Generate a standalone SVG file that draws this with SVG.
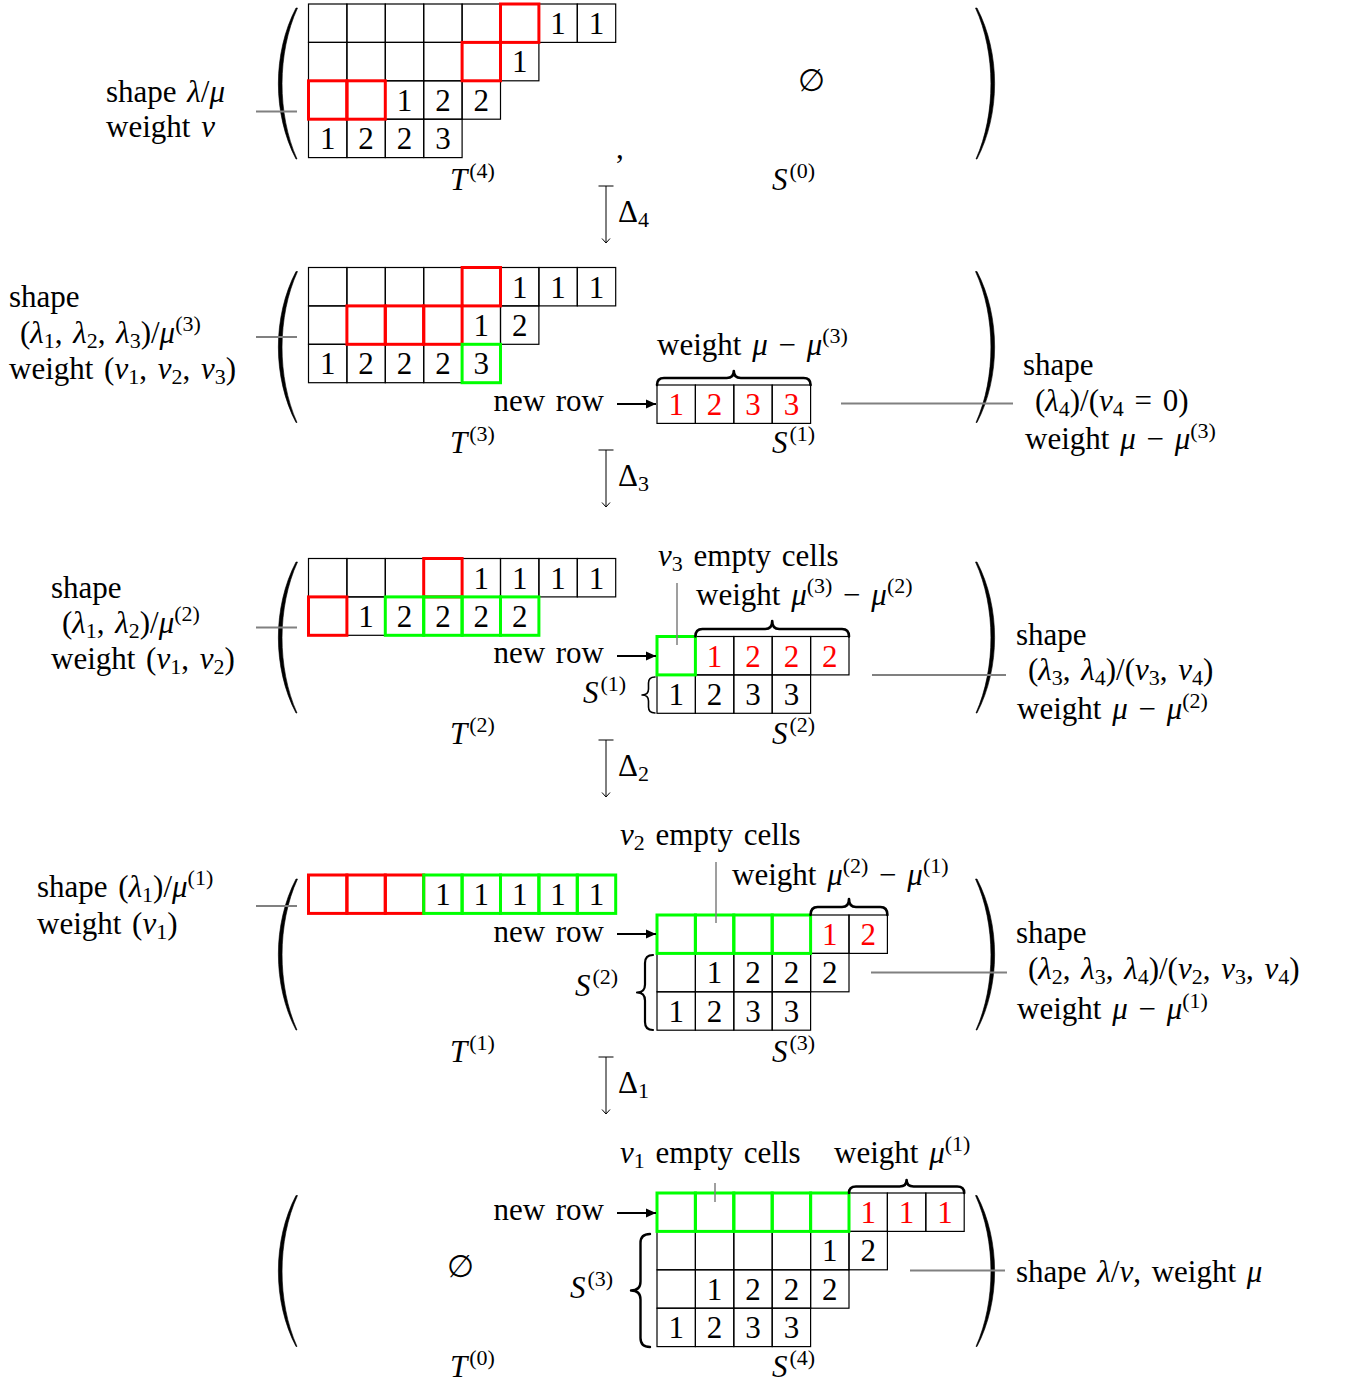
<svg xmlns="http://www.w3.org/2000/svg" xmlns:xlink="http://www.w3.org/1999/xlink" width="1351" height="1382" viewBox="0 0 1351 1382">
<style>
text{font-family:"Liberation Serif","DejaVu Serif",serif;font-size:31px;fill:#000;word-spacing:3px}
.i{font-style:italic}
.s{font-size:22px}
.d{text-anchor:middle}
.e{text-anchor:end}
.rd{fill:#ff0000}
.c{fill:none;stroke:#000;stroke-width:1.2}
.r{fill:none;stroke:#ff0000;stroke-width:3}
.g{fill:none;stroke:#00ff00;stroke-width:3}
.gl{fill:none;stroke:#808080;stroke-width:2}
.br{fill:none;stroke:#000;stroke-width:2.6;stroke-linejoin:round;stroke-linecap:round}
.ar{fill:none;stroke:#000;stroke-width:1.8}
.da{fill:none;stroke:#000;stroke-width:1}
.pa{fill:#000;stroke:#000;stroke-width:0.6}
</style>
<defs>
<marker id="ah" viewBox="0 0 10 10" refX="10" refY="5" markerWidth="10" markerHeight="10" markerUnits="userSpaceOnUse" orient="auto"><path d="M0,0.5 L10,5 L0,9.5 z" fill="#000"/></marker>
<marker id="tb" viewBox="-2 -8 4 16" refX="0" refY="0" markerWidth="4" markerHeight="16" markerUnits="userSpaceOnUse" orient="auto"><path d="M0,-7.5 V7.5" stroke="#000" stroke-width="1" fill="none"/></marker>
<marker id="oa" viewBox="-6 -5 7 10" refX="0" refY="0" markerWidth="7" markerHeight="10" markerUnits="userSpaceOnUse" orient="auto"><path d="M-4.5,-4 L0,0 L-4.5,4" stroke="#000" stroke-width="1" fill="none"/></marker>
<path id="lp" class="pa" d="M18 0 C-5.5 45,-5.5 106,18 151 L19 151 C-1 106,-1 45,19.5 0 Z"/>
<path id="rp" class="pa" d="M0 0 C23.5 45,23.5 106,0 151 L-1 151 C19 106,19 45,-1.5 0 Z"/>
</defs>
<rect width="1351" height="1382" fill="#fff"/>

<!-- Panel 1 -->
<g id="panel1">
<use xlink:href="#lp" x="278" y="8"/>
<use xlink:href="#rp" x="977" y="8"/>
<g id="T4">
<rect class="c" x="308.5" y="4" width="38.4" height="38.4"/><rect class="c" x="346.9" y="4" width="38.4" height="38.4"/><rect class="c" x="385.3" y="4" width="38.4" height="38.4"/><rect class="c" x="423.7" y="4" width="38.4" height="38.4"/><rect class="c" x="462.1" y="4" width="38.4" height="38.4"/><rect class="c" x="500.5" y="4" width="38.4" height="38.4"/><rect class="c" x="538.9" y="4" width="38.4" height="38.4"/><rect class="c" x="577.3" y="4" width="38.4" height="38.4"/>
<rect class="c" x="308.5" y="42.4" width="38.4" height="38.4"/><rect class="c" x="346.9" y="42.4" width="38.4" height="38.4"/><rect class="c" x="385.3" y="42.4" width="38.4" height="38.4"/><rect class="c" x="423.7" y="42.4" width="38.4" height="38.4"/><rect class="c" x="462.1" y="42.4" width="38.4" height="38.4"/><rect class="c" x="500.5" y="42.4" width="38.4" height="38.4"/>
<rect class="c" x="308.5" y="80.8" width="38.4" height="38.4"/><rect class="c" x="346.9" y="80.8" width="38.4" height="38.4"/><rect class="c" x="385.3" y="80.8" width="38.4" height="38.4"/><rect class="c" x="423.7" y="80.8" width="38.4" height="38.4"/><rect class="c" x="462.1" y="80.8" width="38.4" height="38.4"/>
<rect class="c" x="308.5" y="119.2" width="38.4" height="38.4"/><rect class="c" x="346.9" y="119.2" width="38.4" height="38.4"/><rect class="c" x="385.3" y="119.2" width="38.4" height="38.4"/><rect class="c" x="423.7" y="119.2" width="38.4" height="38.4"/>
<rect class="r" x="500.5" y="4" width="38.4" height="38.4"/><rect class="r" x="462.1" y="42.4" width="38.4" height="38.4"/><rect class="r" x="308.5" y="80.8" width="38.4" height="38.4"/><rect class="r" x="346.9" y="80.8" width="38.4" height="38.4"/>
<text class="d" x="558.1" y="34">1</text><text class="d" x="596.5" y="34">1</text>
<text class="d" x="519.7" y="72.4">1</text>
<text class="d" x="404.5" y="110.8">1</text><text class="d" x="442.9" y="110.8">2</text><text class="d" x="481.3" y="110.8">2</text>
<text class="d" x="327.7" y="149.2">1</text><text class="d" x="366.1" y="149.2">2</text><text class="d" x="404.5" y="149.2">2</text><text class="d" x="442.9" y="149.2">3</text>
</g>
<text x="106" y="102">shape <tspan class="i">λ</tspan>/<tspan class="i">μ</tspan></text>
<text x="106" y="137">weight <tspan class="i">ν</tspan></text>
<text x="616" y="158">,</text>
<text class="d" x="811" y="91">∅</text>
<text x="450" y="190"><tspan class="i">T</tspan><tspan class="s" dx="2" dy="-12">(4)</tspan></text>
<text x="772" y="190"><tspan class="i">S</tspan><tspan class="s" dx="2" dy="-12">(0)</tspan></text>
</g>

<!-- Panel 2 -->
<g id="panel2">
<use xlink:href="#lp" x="278" y="271.5"/>
<use xlink:href="#rp" x="977" y="271.5"/>
<g id="T3">
<rect class="c" x="308.5" y="267.5" width="38.4" height="38.4"/><rect class="c" x="346.9" y="267.5" width="38.4" height="38.4"/><rect class="c" x="385.3" y="267.5" width="38.4" height="38.4"/><rect class="c" x="423.7" y="267.5" width="38.4" height="38.4"/><rect class="c" x="462.1" y="267.5" width="38.4" height="38.4"/><rect class="c" x="500.5" y="267.5" width="38.4" height="38.4"/><rect class="c" x="538.9" y="267.5" width="38.4" height="38.4"/><rect class="c" x="577.3" y="267.5" width="38.4" height="38.4"/>
<rect class="c" x="308.5" y="305.9" width="38.4" height="38.4"/><rect class="c" x="346.9" y="305.9" width="38.4" height="38.4"/><rect class="c" x="385.3" y="305.9" width="38.4" height="38.4"/><rect class="c" x="423.7" y="305.9" width="38.4" height="38.4"/><rect class="c" x="462.1" y="305.9" width="38.4" height="38.4"/><rect class="c" x="500.5" y="305.9" width="38.4" height="38.4"/>
<rect class="c" x="308.5" y="344.3" width="38.4" height="38.4"/><rect class="c" x="346.9" y="344.3" width="38.4" height="38.4"/><rect class="c" x="385.3" y="344.3" width="38.4" height="38.4"/><rect class="c" x="423.7" y="344.3" width="38.4" height="38.4"/><rect class="c" x="462.1" y="344.3" width="38.4" height="38.4"/>
<rect class="r" x="462.1" y="267.5" width="38.4" height="38.4"/><rect class="r" x="346.9" y="305.9" width="38.4" height="38.4"/><rect class="r" x="385.3" y="305.9" width="38.4" height="38.4"/><rect class="r" x="423.7" y="305.9" width="38.4" height="38.4"/>
<rect class="g" x="462.1" y="344.3" width="38.4" height="38.4"/>
<text class="d" x="519.7" y="297.5">1</text><text class="d" x="558.1" y="297.5">1</text><text class="d" x="596.5" y="297.5">1</text>
<text class="d" x="481.3" y="335.9">1</text><text class="d" x="519.7" y="335.9">2</text>
<text class="d" x="327.7" y="374.3">1</text><text class="d" x="366.1" y="374.3">2</text><text class="d" x="404.5" y="374.3">2</text><text class="d" x="442.9" y="374.3">2</text><text class="d" x="481.3" y="374.3">3</text>
</g>
<g id="S1">
<rect class="c" x="657" y="385" width="38.4" height="38.4"/><rect class="c" x="695.4" y="385" width="38.4" height="38.4"/><rect class="c" x="733.8" y="385" width="38.4" height="38.4"/><rect class="c" x="772.2" y="385" width="38.4" height="38.4"/>
<text class="d rd" x="676.2" y="415">1</text><text class="d rd" x="714.6" y="415">2</text><text class="d rd" x="753" y="415">3</text><text class="d rd" x="791.4" y="415">3</text>
<path class="br" d="M657 385 Q657 378 664 378 L726.8 378 Q733.8 378 733.8 371 Q733.8 378 740.8 378 L803.6 378 Q810.6 378 810.6 385"/>
</g>
<text x="9" y="307">shape</text>
<text x="20" y="343">(<tspan class="i">λ</tspan><tspan class="s" dy="5">1</tspan><tspan dy="-5">, </tspan><tspan class="i">λ</tspan><tspan class="s" dy="5">2</tspan><tspan dy="-5">, </tspan><tspan class="i">λ</tspan><tspan class="s" dy="5">3</tspan><tspan dy="-5">)/</tspan><tspan class="i">μ</tspan><tspan class="s" dy="-12">(3)</tspan></text>
<text x="9" y="379">weight (<tspan class="i">ν</tspan><tspan class="s" dy="5">1</tspan><tspan dy="-5">, </tspan><tspan class="i">ν</tspan><tspan class="s" dy="5">2</tspan><tspan dy="-5">, </tspan><tspan class="i">ν</tspan><tspan class="s" dy="5">3</tspan><tspan dy="-5">)</tspan></text>
<text x="657" y="355">weight <tspan class="i">μ</tspan> − <tspan class="i">μ</tspan><tspan class="s" dy="-12">(3)</tspan></text>
<text class="e" x="604" y="411">new row</text>
<text x="1023" y="375">shape</text>
<text x="1035" y="411">(<tspan class="i">λ</tspan><tspan class="s" dy="5">4</tspan><tspan dy="-5">)/(</tspan><tspan class="i">ν</tspan><tspan class="s" dy="5">4</tspan><tspan dy="-5"> = 0)</tspan></text>
<text x="1025" y="449">weight <tspan class="i">μ</tspan> − <tspan class="i">μ</tspan><tspan class="s" dy="-11">(3)</tspan></text>
<text x="450" y="453"><tspan class="i">T</tspan><tspan class="s" dx="2" dy="-12">(3)</tspan></text>
<text x="772" y="453"><tspan class="i">S</tspan><tspan class="s" dx="2" dy="-12">(1)</tspan></text>
</g>

<!-- Panel 3 -->
<g id="panel3">
<use xlink:href="#lp" x="278" y="562"/>
<use xlink:href="#rp" x="977" y="562"/>
<g id="T2">
<rect class="c" x="308.5" y="558.5" width="38.4" height="38.4"/><rect class="c" x="346.9" y="558.5" width="38.4" height="38.4"/><rect class="c" x="385.3" y="558.5" width="38.4" height="38.4"/><rect class="c" x="423.7" y="558.5" width="38.4" height="38.4"/><rect class="c" x="462.1" y="558.5" width="38.4" height="38.4"/><rect class="c" x="500.5" y="558.5" width="38.4" height="38.4"/><rect class="c" x="538.9" y="558.5" width="38.4" height="38.4"/><rect class="c" x="577.3" y="558.5" width="38.4" height="38.4"/>
<rect class="c" x="308.5" y="596.9" width="38.4" height="38.4"/><rect class="c" x="346.9" y="596.9" width="38.4" height="38.4"/><rect class="c" x="385.3" y="596.9" width="38.4" height="38.4"/><rect class="c" x="423.7" y="596.9" width="38.4" height="38.4"/><rect class="c" x="462.1" y="596.9" width="38.4" height="38.4"/><rect class="c" x="500.5" y="596.9" width="38.4" height="38.4"/>
<rect class="r" x="423.7" y="558.5" width="38.4" height="38.4"/><rect class="r" x="308.5" y="596.9" width="38.4" height="38.4"/>
<rect class="g" x="385.3" y="596.9" width="38.4" height="38.4"/><rect class="g" x="423.7" y="596.9" width="38.4" height="38.4"/><rect class="g" x="462.1" y="596.9" width="38.4" height="38.4"/><rect class="g" x="500.5" y="596.9" width="38.4" height="38.4"/>
<text class="d" x="481.3" y="588.5">1</text><text class="d" x="519.7" y="588.5">1</text><text class="d" x="558.1" y="588.5">1</text><text class="d" x="596.5" y="588.5">1</text>
<text class="d" x="366.1" y="626.9">1</text><text class="d" x="404.5" y="626.9">2</text><text class="d" x="442.9" y="626.9">2</text><text class="d" x="481.3" y="626.9">2</text><text class="d" x="519.7" y="626.9">2</text>
</g>
<g id="S2">
<rect class="c" x="695.4" y="636.5" width="38.4" height="38.4"/><rect class="c" x="733.8" y="636.5" width="38.4" height="38.4"/><rect class="c" x="772.2" y="636.5" width="38.4" height="38.4"/><rect class="c" x="810.6" y="636.5" width="38.4" height="38.4"/>
<rect class="c" x="657" y="674.9" width="38.4" height="38.4"/><rect class="c" x="695.4" y="674.9" width="38.4" height="38.4"/><rect class="c" x="733.8" y="674.9" width="38.4" height="38.4"/><rect class="c" x="772.2" y="674.9" width="38.4" height="38.4"/>
<rect class="g" x="657" y="636.5" width="38.4" height="38.4"/>
<text class="d rd" x="714.6" y="666.5">1</text><text class="d rd" x="753" y="666.5">2</text><text class="d rd" x="791.4" y="666.5">2</text><text class="d rd" x="829.8" y="666.5">2</text>
<text class="d" x="676.2" y="704.9">1</text><text class="d" x="714.6" y="704.9">2</text><text class="d" x="753" y="704.9">3</text><text class="d" x="791.4" y="704.9">3</text>
<path class="br" d="M695.4 636.5 Q695.4 629 702.4 629 L765.2 629 Q772.2 629 772.2 621 Q772.2 629 779.2 629 L842 629 Q849 629 849 636.5"/>
<path class="br" style="stroke-width:1.6" d="M655 677 Q648.5 677 648.5 683 L648.5 689 Q648.5 695 642 695 Q648.5 695 648.5 701 L648.5 707 Q648.5 713 655 713"/>
</g>
<text x="51" y="598">shape</text>
<text x="62" y="633">(<tspan class="i">λ</tspan><tspan class="s" dy="5">1</tspan><tspan dy="-5">, </tspan><tspan class="i">λ</tspan><tspan class="s" dy="5">2</tspan><tspan dy="-5">)/</tspan><tspan class="i">μ</tspan><tspan class="s" dy="-12">(2)</tspan></text>
<text x="51" y="669">weight (<tspan class="i">ν</tspan><tspan class="s" dy="5">1</tspan><tspan dy="-5">, </tspan><tspan class="i">ν</tspan><tspan class="s" dy="5">2</tspan><tspan dy="-5">)</tspan></text>
<text x="658" y="566"><tspan class="i">ν</tspan><tspan class="s" dy="5">3</tspan><tspan dy="-5"> empty cells</tspan></text>
<text x="696" y="605">weight <tspan class="i">μ</tspan><tspan class="s" dy="-12">(3)</tspan><tspan dy="12"> − </tspan><tspan class="i">μ</tspan><tspan class="s" dy="-12">(2)</tspan></text>
<text class="e" x="604" y="663">new row</text>
<text x="583" y="703"><tspan class="i">S</tspan><tspan class="s" dx="2" dy="-12">(1)</tspan></text>
<text x="1016" y="645">shape</text>
<text x="1028" y="680">(<tspan class="i">λ</tspan><tspan class="s" dy="5">3</tspan><tspan dy="-5">, </tspan><tspan class="i">λ</tspan><tspan class="s" dy="5">4</tspan><tspan dy="-5">)/(</tspan><tspan class="i">ν</tspan><tspan class="s" dy="5">3</tspan><tspan dy="-5">, </tspan><tspan class="i">ν</tspan><tspan class="s" dy="5">4</tspan><tspan dy="-5">)</tspan></text>
<text x="1017" y="719">weight <tspan class="i">μ</tspan> − <tspan class="i">μ</tspan><tspan class="s" dy="-11">(2)</tspan></text>
<text x="450" y="744"><tspan class="i">T</tspan><tspan class="s" dx="2" dy="-12">(2)</tspan></text>
<text x="772" y="744"><tspan class="i">S</tspan><tspan class="s" dx="2" dy="-12">(2)</tspan></text>
</g>

<!-- Panel 4 -->
<g id="panel4">
<use xlink:href="#lp" x="278" y="879"/>
<use xlink:href="#rp" x="977" y="879"/>
<g id="T1">
<rect class="r" x="308.5" y="875" width="38.4" height="38.4"/><rect class="r" x="346.9" y="875" width="38.4" height="38.4"/><rect class="r" x="385.3" y="875" width="38.4" height="38.4"/>
<rect class="g" x="423.7" y="875" width="38.4" height="38.4"/><rect class="g" x="462.1" y="875" width="38.4" height="38.4"/><rect class="g" x="500.5" y="875" width="38.4" height="38.4"/><rect class="g" x="538.9" y="875" width="38.4" height="38.4"/><rect class="g" x="577.3" y="875" width="38.4" height="38.4"/>
<text class="d" x="442.9" y="905">1</text><text class="d" x="481.3" y="905">1</text><text class="d" x="519.7" y="905">1</text><text class="d" x="558.1" y="905">1</text><text class="d" x="596.5" y="905">1</text>
</g>
<g id="S3">
<rect class="c" x="810.6" y="915" width="38.4" height="38.4"/><rect class="c" x="849" y="915" width="38.4" height="38.4"/>
<rect class="c" x="657" y="953.4" width="38.4" height="38.4"/><rect class="c" x="695.4" y="953.4" width="38.4" height="38.4"/><rect class="c" x="733.8" y="953.4" width="38.4" height="38.4"/><rect class="c" x="772.2" y="953.4" width="38.4" height="38.4"/><rect class="c" x="810.6" y="953.4" width="38.4" height="38.4"/>
<rect class="c" x="657" y="991.8" width="38.4" height="38.4"/><rect class="c" x="695.4" y="991.8" width="38.4" height="38.4"/><rect class="c" x="733.8" y="991.8" width="38.4" height="38.4"/><rect class="c" x="772.2" y="991.8" width="38.4" height="38.4"/>
<rect class="g" x="657" y="915" width="38.4" height="38.4"/><rect class="g" x="695.4" y="915" width="38.4" height="38.4"/><rect class="g" x="733.8" y="915" width="38.4" height="38.4"/><rect class="g" x="772.2" y="915" width="38.4" height="38.4"/>
<text class="d rd" x="829.8" y="945">1</text><text class="d rd" x="868.2" y="945">2</text>
<text class="d" x="714.6" y="983.4">1</text><text class="d" x="753" y="983.4">2</text><text class="d" x="791.4" y="983.4">2</text><text class="d" x="829.8" y="983.4">2</text>
<text class="d" x="676.2" y="1021.8">1</text><text class="d" x="714.6" y="1021.8">2</text><text class="d" x="753" y="1021.8">3</text><text class="d" x="791.4" y="1021.8">3</text>
<path class="br" d="M810.6 915 Q810.6 907 817.6 907 L842 907 Q849 907 849 899 Q849 907 856 907 L880.4 907 Q887.4 907 887.4 915"/>
<path class="br" style="stroke-width:2.2" d="M653 955 Q645 955 645 963 L645 984.5 Q645 992.5 637 992.5 Q645 992.5 645 1000.5 L645 1022 Q645 1030 653 1030"/>
</g>
<text x="37" y="897">shape (<tspan class="i">λ</tspan><tspan class="s" dy="5">1</tspan><tspan dy="-5">)/</tspan><tspan class="i">μ</tspan><tspan class="s" dy="-12">(1)</tspan></text>
<text x="37" y="934">weight (<tspan class="i">ν</tspan><tspan class="s" dy="5">1</tspan><tspan dy="-5">)</tspan></text>
<text x="620" y="845"><tspan class="i">ν</tspan><tspan class="s" dy="5">2</tspan><tspan dy="-5"> empty cells</tspan></text>
<text x="732" y="885">weight <tspan class="i">μ</tspan><tspan class="s" dy="-12">(2)</tspan><tspan dy="12"> − </tspan><tspan class="i">μ</tspan><tspan class="s" dy="-12">(1)</tspan></text>
<text class="e" x="604" y="942">new row</text>
<text x="575" y="996"><tspan class="i">S</tspan><tspan class="s" dx="2" dy="-12">(2)</tspan></text>
<text x="1016" y="943">shape</text>
<text x="1028" y="979">(<tspan class="i">λ</tspan><tspan class="s" dy="5">2</tspan><tspan dy="-5">, </tspan><tspan class="i">λ</tspan><tspan class="s" dy="5">3</tspan><tspan dy="-5">, </tspan><tspan class="i">λ</tspan><tspan class="s" dy="5">4</tspan><tspan dy="-5">)/(</tspan><tspan class="i">ν</tspan><tspan class="s" dy="5">2</tspan><tspan dy="-5">, </tspan><tspan class="i">ν</tspan><tspan class="s" dy="5">3</tspan><tspan dy="-5">, </tspan><tspan class="i">ν</tspan><tspan class="s" dy="5">4</tspan><tspan dy="-5">)</tspan></text>
<text x="1017" y="1019">weight <tspan class="i">μ</tspan> − <tspan class="i">μ</tspan><tspan class="s" dy="-11">(1)</tspan></text>
<text x="450" y="1062"><tspan class="i">T</tspan><tspan class="s" dx="2" dy="-12">(1)</tspan></text>
<text x="772" y="1062"><tspan class="i">S</tspan><tspan class="s" dx="2" dy="-12">(3)</tspan></text>
</g>

<!-- Panel 5 -->
<g id="panel5">
<use xlink:href="#lp" x="278" y="1195.5"/>
<use xlink:href="#rp" x="977" y="1195.5"/>
<g id="S4">
<rect class="c" x="849" y="1193" width="38.4" height="38.4"/><rect class="c" x="887.4" y="1193" width="38.4" height="38.4"/><rect class="c" x="925.8" y="1193" width="38.4" height="38.4"/>
<rect class="c" x="657" y="1231.4" width="38.4" height="38.4"/><rect class="c" x="695.4" y="1231.4" width="38.4" height="38.4"/><rect class="c" x="733.8" y="1231.4" width="38.4" height="38.4"/><rect class="c" x="772.2" y="1231.4" width="38.4" height="38.4"/><rect class="c" x="810.6" y="1231.4" width="38.4" height="38.4"/><rect class="c" x="849" y="1231.4" width="38.4" height="38.4"/>
<rect class="c" x="657" y="1269.8" width="38.4" height="38.4"/><rect class="c" x="695.4" y="1269.8" width="38.4" height="38.4"/><rect class="c" x="733.8" y="1269.8" width="38.4" height="38.4"/><rect class="c" x="772.2" y="1269.8" width="38.4" height="38.4"/><rect class="c" x="810.6" y="1269.8" width="38.4" height="38.4"/>
<rect class="c" x="657" y="1308.2" width="38.4" height="38.4"/><rect class="c" x="695.4" y="1308.2" width="38.4" height="38.4"/><rect class="c" x="733.8" y="1308.2" width="38.4" height="38.4"/><rect class="c" x="772.2" y="1308.2" width="38.4" height="38.4"/>
<rect class="g" x="657" y="1193" width="38.4" height="38.4"/><rect class="g" x="695.4" y="1193" width="38.4" height="38.4"/><rect class="g" x="733.8" y="1193" width="38.4" height="38.4"/><rect class="g" x="772.2" y="1193" width="38.4" height="38.4"/><rect class="g" x="810.6" y="1193" width="38.4" height="38.4"/>
<text class="d rd" x="868.2" y="1223">1</text><text class="d rd" x="906.6" y="1223">1</text><text class="d rd" x="945" y="1223">1</text>
<text class="d" x="829.8" y="1261.4">1</text><text class="d" x="868.2" y="1261.4">2</text>
<text class="d" x="714.6" y="1299.8">1</text><text class="d" x="753" y="1299.8">2</text><text class="d" x="791.4" y="1299.8">2</text><text class="d" x="829.8" y="1299.8">2</text>
<text class="d" x="676.2" y="1338.2">1</text><text class="d" x="714.6" y="1338.2">2</text><text class="d" x="753" y="1338.2">3</text><text class="d" x="791.4" y="1338.2">3</text>
<path class="br" d="M849 1193 Q849 1186.5 856 1186.5 L899.6 1186.5 Q906.6 1186.5 906.6 1180 Q906.6 1186.5 913.6 1186.5 L957.2 1186.5 Q964.2 1186.5 964.2 1193"/>
<path class="br" style="stroke-width:2.4" d="M650 1234 Q640.5 1234 640.5 1243 L640.5 1281.5 Q640.5 1290.5 631 1290.5 Q640.5 1290.5 640.5 1299.5 L640.5 1338 Q640.5 1347 650 1347"/>
</g>
<text class="d" x="460" y="1277">∅</text>
<text x="620" y="1163"><tspan class="i">ν</tspan><tspan class="s" dy="5">1</tspan><tspan dy="-5"> empty cells</tspan></text>
<text x="834" y="1163">weight <tspan class="i">μ</tspan><tspan class="s" dy="-12">(1)</tspan></text>
<text class="e" x="604" y="1220">new row</text>
<text x="570" y="1298"><tspan class="i">S</tspan><tspan class="s" dx="2" dy="-12">(3)</tspan></text>
<text x="1016" y="1282">shape <tspan class="i">λ</tspan>/<tspan class="i">ν</tspan>, weight <tspan class="i">μ</tspan></text>
<text x="450" y="1377"><tspan class="i">T</tspan><tspan class="s" dx="2" dy="-12">(0)</tspan></text>
<text x="772" y="1377"><tspan class="i">S</tspan><tspan class="s" dx="2" dy="-12">(4)</tspan></text>
</g>

<!-- Connectors -->
<g id="connectors">
<path class="gl" d="M256 111.5 H297 M256 337 H297 M841 403.5 H1013 M256 627.5 H297 M872 675 H1006 M256 906 H297 M871 972.5 H1007 M910 1270.5 H1005"/>
<path class="gl" style="stroke-width:1.5" d="M677 583 V645 M716 862 V923 M715 1183 V1202"/>
<path class="ar" marker-end="url(#ah)" d="M617 404 H656"/>
<path class="ar" marker-end="url(#ah)" d="M617 656 H656"/>
<path class="ar" marker-end="url(#ah)" d="M617 934 H656"/>
<path class="ar" marker-end="url(#ah)" d="M617 1213 H656"/>
<path class="da" marker-start="url(#tb)" marker-end="url(#oa)" d="M606 186 V243"/>
<path class="da" marker-start="url(#tb)" marker-end="url(#oa)" d="M606 450 V507"/>
<path class="da" marker-start="url(#tb)" marker-end="url(#oa)" d="M606 740 V797"/>
<path class="da" marker-start="url(#tb)" marker-end="url(#oa)" d="M606 1057 V1114"/>
<text x="618" y="222">Δ<tspan class="s" dy="5">4</tspan></text>
<text x="618" y="486">Δ<tspan class="s" dy="5">3</tspan></text>
<text x="618" y="776">Δ<tspan class="s" dy="5">2</tspan></text>
<text x="618" y="1093">Δ<tspan class="s" dy="5">1</tspan></text>
</g>
</svg>
